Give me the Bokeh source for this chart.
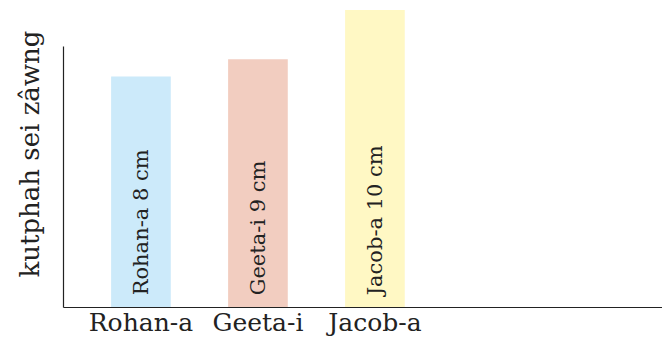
import math
from bokeh.plotting import figure
from bokeh.models import FixedTicker, ColumnDataSource
from bokeh.core.properties import value
from bokeh.embed import file_html
from bokeh.resources import INLINE

# Data
names = ["Rohan-a", "Geeta-i", "Jacob-a"]
height_labels = ["Rohan-a 8 cm", "Geeta-i 9 cm", "Jacob-a 10 cm"]
heights_cm = [8, 9, 10]
drawn_heights = [8.0, 8.6, 10.3]   # bar heights as drawn in the picture
colors = ["#CCEAFA", "#F2CDC0", "#FFF8C4"]
positions = [1, 2, 3]

FONT = "DejaVu Serif"
TXT = "#222222"

src = ColumnDataSource(dict(x=positions, top=drawn_heights, color=colors,
                            label=height_labels))

p = figure(width=662, height=339, output_backend="svg", toolbar_location=None,
           x_range=(0.338, 5.458), y_range=(0, 10.63),
           min_border_left=63, min_border_right=0, min_border_top=0,
           min_border_bottom=30)
p.outline_line_color = None
p.xgrid.visible = False
p.ygrid.visible = False
p.background_fill_color = "white"
p.border_fill_color = "white"

p.vbar(x="x", top="top", bottom=0, width=0.51, fill_color="color",
       line_color=None, source=src)

p.text(x="x", y=0.42, text="label", source=src, angle=math.pi / 2,
       text_align="left", text_baseline="middle",
       text_font=value(FONT), text_font_size="21px", text_color=TXT)

# x axis
xa = p.xaxis[0]
xa.ticker = FixedTicker(ticks=positions)
xa.major_label_overrides = {pos: n for pos, n in zip(positions, names)}
xa.major_tick_line_color = None
xa.minor_tick_line_color = None
xa.major_tick_out = 0
xa.major_label_standoff = 0
xa.major_label_text_font = FONT
xa.major_label_text_font_size = "25px"
xa.major_label_text_color = TXT
xa.axis_line_color = "#222222"
xa.axis_line_width = 1.2

# y axis
ya = p.yaxis[0]
ya.ticker = FixedTicker(ticks=[])
ya.major_tick_line_color = None
ya.minor_tick_line_color = None
ya.major_tick_out = 0
ya.bounds = (0, 9.05)
ya.axis_line_color = "#222222"
ya.axis_line_width = 1.2
ya.axis_label = "kutphah sei zâwng"
ya.axis_label_text_font = FONT
ya.axis_label_text_font_size = "26px"
ya.axis_label_text_font_style = "normal"
ya.axis_label_text_color = TXT
ya.axis_label_standoff = 19

open("out.html", "w").write(file_html(p, INLINE))
